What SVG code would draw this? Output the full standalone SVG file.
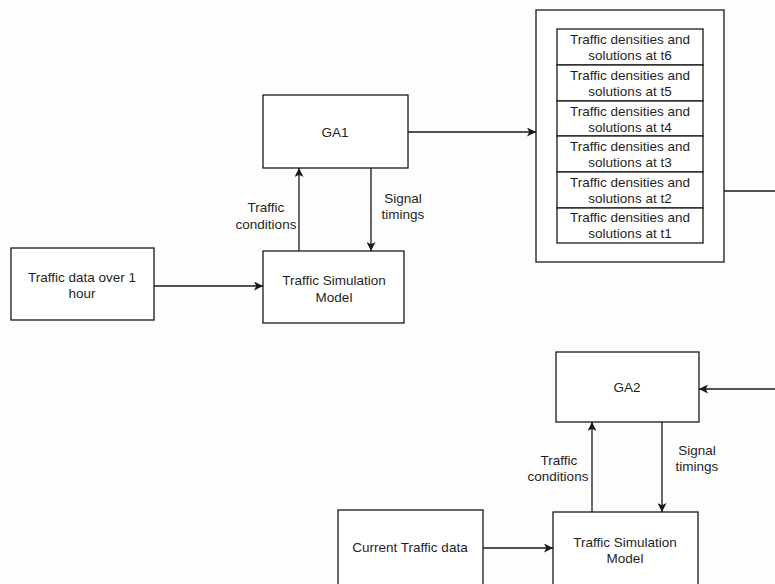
<svg xmlns="http://www.w3.org/2000/svg" width="775" height="584" viewBox="0 0 775 584">
  <style>
    .box { fill: #ffffff; stroke: #1a1a1a; stroke-width: 1.3; }
    .row { fill: #ffffff; stroke: #1a1a1a; stroke-width: 1.3; }
    .edge { fill: none; stroke: #1a1a1a; stroke-width: 1.3; }
    .arrow { fill: none; stroke: #1a1a1a; stroke-width: 1.3; marker-end: url(#head); }
    text { font-family: "Liberation Sans", Arial, sans-serif; font-size: 13.5px; fill: #1f1f1f; text-anchor: middle; }
  </style>
  <defs>
    <marker id="head" viewBox="0 0 10 10" refX="10" refY="5" markerWidth="9" markerHeight="9" markerUnits="userSpaceOnUse" orient="auto">
      <path d="M0,0 L10,5 L0,10 L2.5,5 Z" fill="#1a1a1a"/>
    </marker>
  </defs>
  <rect width="775" height="584" fill="#fdfdfd"/>

  <!-- connectors -->
  <g id="connectors">
    <path class="arrow" d="M408,132 H536"/>
    <path class="arrow" d="M154,286 H263"/>
    <path class="arrow" d="M299,251 V168"/>
    <path class="arrow" d="M371,168 V251"/>
    <path class="arrow" d="M703,191 H790 V389 H699"/>
    <path class="arrow" d="M592,512 V422"/>
    <path class="arrow" d="M662,422 V512"/>
    <path class="arrow" d="M483,548 H553"/>
    <!-- edge labels -->
    <text x="266" y="212">Traffic</text>
    <text x="266" y="229">conditions</text>
    <text x="403" y="203">Signal</text>
    <text x="403" y="219">timings</text>
    <text x="559" y="465">Traffic</text>
    <text x="558" y="481">conditions</text>
    <text x="697" y="455">Signal</text>
    <text x="697" y="471">timings</text>
  </g>

  <g id="traffic-data-hour">
    <rect class="box" x="11" y="248" width="143" height="72"/>
    <text x="82" y="282">Traffic data over 1</text>
    <text x="82" y="298">hour</text>
  </g>

  <g id="ga1">
    <rect class="box" x="263" y="95" width="145" height="73"/>
    <text x="335" y="137">GA1</text>
  </g>

  <g id="sim-model-1">
    <rect class="box" x="263" y="251" width="141" height="72"/>
    <text x="334" y="285">Traffic Simulation</text>
    <text x="334" y="302">Model</text>
  </g>

  <g id="solution-store">
    <rect class="box" x="536" y="10" width="188" height="252"/>
    <rect class="row" x="557" y="29" width="146" height="36"/>
    <text x="630" y="44">Traffic densities and</text>
    <text x="630" y="60">solutions at t6</text>
    <rect class="row" x="557" y="65" width="146" height="36"/>
    <text x="630" y="80">Traffic densities and</text>
    <text x="630" y="96">solutions at t5</text>
    <rect class="row" x="557" y="101" width="146" height="35"/>
    <text x="630" y="116">Traffic densities and</text>
    <text x="630" y="132">solutions at t4</text>
    <rect class="row" x="557" y="136" width="146" height="36"/>
    <text x="630" y="151">Traffic densities and</text>
    <text x="630" y="167">solutions at t3</text>
    <rect class="row" x="557" y="172" width="146" height="36"/>
    <text x="630" y="187">Traffic densities and</text>
    <text x="630" y="203">solutions at t2</text>
    <rect class="row" x="557" y="208" width="146" height="35"/>
    <text x="630" y="222">Traffic densities and</text>
    <text x="630" y="238">solutions at t1</text>
  </g>

  <g id="ga2">
    <rect class="box" x="556" y="352" width="143" height="70"/>
    <text x="627" y="392">GA2</text>
  </g>

  <g id="sim-model-2">
    <rect class="box" x="553" y="512" width="145" height="80"/>
    <text x="625" y="547">Traffic Simulation</text>
    <text x="625" y="563">Model</text>
  </g>

  <g id="current-traffic-data">
    <rect class="box" x="338" y="510" width="145" height="80"/>
    <text x="410" y="552">Current Traffic data</text>
  </g>
</svg>
